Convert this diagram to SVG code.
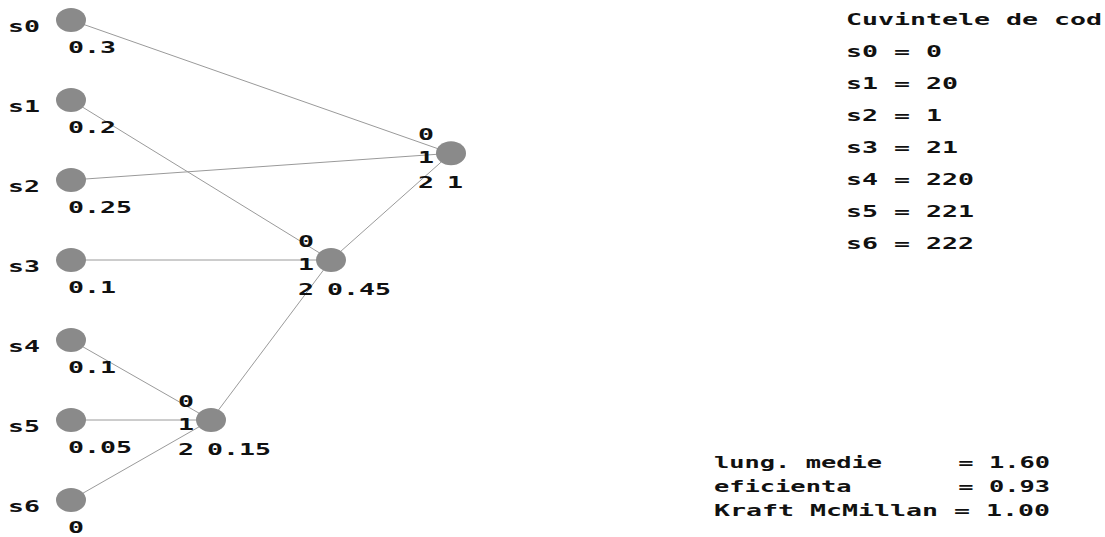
<svg xmlns="http://www.w3.org/2000/svg" width="1105" height="537" viewBox="0 0 1105 537">
  <style>
    text { font-family: "DejaVu Sans Mono", "Liberation Mono", monospace; font-weight: bold; font-size: 15px; fill: #111; white-space: pre; }
    .node { fill: #8a8a8a; }
    .edge { stroke: #9a9a9a; stroke-width: 1; fill: none; }
  </style>
  <rect width="1105" height="537" fill="#ffffff"/>

  <!-- tree edges -->
  <g id="connectors">
    <line class="edge" x1="71" y1="20" x2="451" y2="153.3"/>
    <line class="edge" x1="71" y1="180" x2="451" y2="153.3"/>
    <line class="edge" x1="331" y1="260" x2="451" y2="153.3"/>
    <line class="edge" x1="71" y1="100" x2="331" y2="260"/>
    <line class="edge" x1="71" y1="260" x2="331" y2="260"/>
    <line class="edge" x1="211" y1="420" x2="331" y2="260"/>
    <line class="edge" x1="71" y1="340" x2="211" y2="420"/>
    <line class="edge" x1="71" y1="420" x2="211" y2="420"/>
    <line class="edge" x1="71" y1="500" x2="211" y2="420"/>
  </g>

  <!-- source symbols -->
  <g id="s0">
    <ellipse class="node" cx="71" cy="20" rx="15" ry="12"/>
    <text x="8" y="32" textLength="32" lengthAdjust="spacingAndGlyphs">s0</text>
    <text x="68" y="53" textLength="48" lengthAdjust="spacingAndGlyphs">0.3</text>
  </g>
  <g id="s1">
    <ellipse class="node" cx="71" cy="100" rx="15" ry="12"/>
    <text x="8" y="112" textLength="32" lengthAdjust="spacingAndGlyphs">s1</text>
    <text x="68" y="133" textLength="48" lengthAdjust="spacingAndGlyphs">0.2</text>
  </g>
  <g id="s2">
    <ellipse class="node" cx="71" cy="180" rx="15" ry="12"/>
    <text x="8" y="192" textLength="32" lengthAdjust="spacingAndGlyphs">s2</text>
    <text x="68" y="213" textLength="64" lengthAdjust="spacingAndGlyphs">0.25</text>
  </g>
  <g id="s3">
    <ellipse class="node" cx="71" cy="260" rx="15" ry="12"/>
    <text x="8" y="272" textLength="32" lengthAdjust="spacingAndGlyphs">s3</text>
    <text x="68" y="293" textLength="48" lengthAdjust="spacingAndGlyphs">0.1</text>
  </g>
  <g id="s4">
    <ellipse class="node" cx="71" cy="340" rx="15" ry="12"/>
    <text x="8" y="352" textLength="32" lengthAdjust="spacingAndGlyphs">s4</text>
    <text x="68" y="373" textLength="48" lengthAdjust="spacingAndGlyphs">0.1</text>
  </g>
  <g id="s5">
    <ellipse class="node" cx="71" cy="420" rx="15" ry="12"/>
    <text x="8" y="432" textLength="32" lengthAdjust="spacingAndGlyphs">s5</text>
    <text x="68" y="453" textLength="64" lengthAdjust="spacingAndGlyphs">0.05</text>
  </g>
  <g id="s6">
    <ellipse class="node" cx="71" cy="500" rx="15" ry="12"/>
    <text x="8" y="512" textLength="32" lengthAdjust="spacingAndGlyphs">s6</text>
    <text x="68" y="533" textLength="16" lengthAdjust="spacingAndGlyphs">0</text>
  </g>

  <!-- merged nodes -->
  <g id="n015">
    <ellipse class="node" cx="211" cy="420" rx="15" ry="12"/>
    <text x="178" y="407" textLength="16" lengthAdjust="spacingAndGlyphs">0</text>
    <text x="178" y="430" textLength="16" lengthAdjust="spacingAndGlyphs">1</text>
    <text x="178" y="455" textLength="16" lengthAdjust="spacingAndGlyphs">2</text>
    <text x="207" y="455" textLength="64" lengthAdjust="spacingAndGlyphs">0.15</text>
  </g>
  <g id="n045">
    <ellipse class="node" cx="331" cy="260" rx="15" ry="12"/>
    <text x="298" y="247" textLength="16" lengthAdjust="spacingAndGlyphs">0</text>
    <text x="298" y="270" textLength="16" lengthAdjust="spacingAndGlyphs">1</text>
    <text x="298" y="295" textLength="16" lengthAdjust="spacingAndGlyphs">2</text>
    <text x="327" y="295" textLength="64" lengthAdjust="spacingAndGlyphs">0.45</text>
  </g>
  <g id="root">
    <ellipse class="node" cx="451" cy="153.3" rx="15" ry="12"/>
    <text x="418" y="140" textLength="16" lengthAdjust="spacingAndGlyphs">0</text>
    <text x="418" y="163" textLength="16" lengthAdjust="spacingAndGlyphs">1</text>
    <text x="418" y="188" textLength="16" lengthAdjust="spacingAndGlyphs">2</text>
    <text x="447" y="188" textLength="16" lengthAdjust="spacingAndGlyphs">1</text>
  </g>

  <!-- code words -->
  <g id="codewords">
    <text x="846" y="25" textLength="256" lengthAdjust="spacingAndGlyphs">Cuvintele de cod</text>
    <text x="846" y="57" textLength="96" lengthAdjust="spacingAndGlyphs">s0 = 0</text>
    <text x="846" y="89" textLength="112" lengthAdjust="spacingAndGlyphs">s1 = 20</text>
    <text x="846" y="121" textLength="96" lengthAdjust="spacingAndGlyphs">s2 = 1</text>
    <text x="846" y="153" textLength="112" lengthAdjust="spacingAndGlyphs">s3 = 21</text>
    <text x="846" y="185" textLength="128" lengthAdjust="spacingAndGlyphs">s4 = 220</text>
    <text x="846" y="217" textLength="128" lengthAdjust="spacingAndGlyphs">s5 = 221</text>
    <text x="846" y="249" textLength="128" lengthAdjust="spacingAndGlyphs">s6 = 222</text>
  </g>

  <!-- statistics -->
  <g id="stats">
    <text x="714" y="468" textLength="336" lengthAdjust="spacingAndGlyphs">lung. medie     = 1.60</text>
    <text x="714" y="492" textLength="336" lengthAdjust="spacingAndGlyphs">eficienta       = 0.93</text>
    <text x="714" y="516" textLength="336" lengthAdjust="spacingAndGlyphs">Kraft McMillan = 1.00</text>
  </g>
</svg>
